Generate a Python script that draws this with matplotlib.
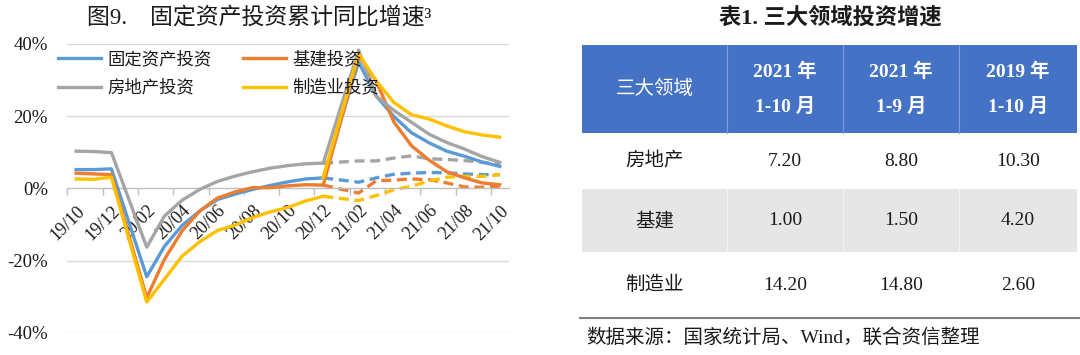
import matplotlib
matplotlib.use('Agg')
import matplotlib.pyplot as plt
from matplotlib.patches import Rectangle

# ---------------- data ----------------
months = ['19/10', '19/11', '19/12', '20/01', '20/02', '20/03', '20/04', '20/05',
          '20/06', '20/07', '20/08', '20/09', '20/10', '20/11', '20/12', '21/01',
          '21/02', '21/03', '21/04', '21/05', '21/06', '21/07', '21/08', '21/09', '21/10']

# 19/10 .. 20/12 (cumulative y/y, %); January has no separate release
fai_2020 = [5.2, 5.2, 5.4, None, -24.5, -16.1, -10.3, -6.3, -3.1, -1.6, -0.3, 0.8, 1.8, 2.6, 2.9]
infra_2020 = [4.2, 4.0, 3.8, None, -30.3, -19.7, -11.8, -6.3, -2.7, -1.0, 0.2, 0.2, 0.7, 1.0, 0.9]
estate_2020 = [10.3, 10.2, 9.9, None, -16.3, -7.7, -3.3, -0.3, 1.9, 3.4, 4.6, 5.6, 6.3, 6.8, 7.0]
manu_2020 = [2.6, 2.5, 3.1, None, -31.5, -25.2, -18.8, -14.8, -11.7, -10.2, -8.1, -6.5, -5.3, -3.5, -2.2]

# 20/12 .. 21/10, solid (y/y)
fai_2021 = [2.9, None, 35.0, 25.6, 19.9, 15.4, 12.6, 10.3, 8.9, 7.3, 6.1]
infra_2021 = [0.9, None, 36.6, 29.7, 18.4, 11.8, 7.8, 4.6, 2.9, 1.5, 1.0]
estate_2021 = [7.0, None, 38.3, 25.6, 21.6, 18.3, 15.0, 12.7, 10.9, 8.8, 7.2]
manu_2021 = [3.0, None, 37.3, 29.8, 23.8, 20.4, 19.2, 17.3, 15.7, 14.8, 14.2]

# 20/12 .. 21/10, dashed (two-year average)
fai_2y = [2.9, None, 1.7, 2.9, 3.9, 4.2, 4.4, 4.3, 4.0, 3.8, 3.8]
infra_2y = [0.9, None, -1.3, 2.1, 2.3, 2.6, 2.4, 1.5, 0.4, 0.3, 0.6]
estate_2y = [7.0, None, 7.6, 7.6, 8.4, 9.0, 8.2, 8.0, 7.7, 7.2, 6.8]
manu_2y = [-2.2, None, -3.4, -2.0, -0.4, 0.6, 2.0, 3.1, 3.3, 3.3, 3.8]

series_names = ['固定资产投资', '基建投资', '房地产投资', '制造业投资']
yticks = [-40, -20, 0, 20, 40]

table_title = '表1. 三大领域投资增速'
table_header = ['三大领域', '2021 年\n1-10 月', '2021 年\n1-9 月', '2019 年\n1-10 月']
table_rows = ['房地产', '基建', '制造业']
table_vals = [[7.20, 8.80, 10.30],
              [1.00, 1.50, 4.20],
              [14.20, 14.80, 2.60]]
source_text = '数据来源：国家统计局、Wind，联合资信整理'
chart_title = '图9.\u3000固定资产投资累计同比增速³'

# ---------------- style ----------------
C_BLUE, C_ORANGE, C_GRAY, C_YELLOW = '#5B9BD5', '#ED7D31', '#A5A5A5', '#FFC000'
SERIF = ['Liberation Serif', 'Noto Sans CJK SC']
CJK = ['Noto Sans CJK SC', 'Liberation Serif']
W, H = 1080, 355

fig = plt.figure(figsize=(W / 100, H / 100), dpi=100)

x0, x1, ytop, ybot = 67.3, 508.6, 44.0, 332.7
ax = fig.add_axes([x0 / W, (H - ybot) / H, (x1 - x0) / W, (ybot - ytop) / H])


def pts(vals, start):
    xs = [start + i for i, v in enumerate(vals) if v is not None]
    ys = [v for v in vals if v is not None]
    return xs, ys


LW = 2.4
DASH = (0, (3.0, 1.7))
i2021 = months.index('20/12')
colors = {'固定资产投资': C_BLUE, '基建投资': C_ORANGE, '房地产投资': C_GRAY, '制造业投资': C_YELLOW}
data2020 = {'固定资产投资': fai_2020, '基建投资': infra_2020, '房地产投资': estate_2020, '制造业投资': manu_2020}
data2021 = {'固定资产投资': fai_2021, '基建投资': infra_2021, '房地产投资': estate_2021, '制造业投资': manu_2021}
data2y = {'固定资产投资': fai_2y, '基建投资': infra_2y, '房地产投资': estate_2y, '制造业投资': manu_2y}

handles = {}
for name in series_names:
    ax.plot(*pts(data2y[name], i2021), color=colors[name], lw=LW, ls=DASH,
            solid_capstyle='butt', zorder=2)
for name in series_names:
    h, = ax.plot(*pts(data2020[name], 0), color=colors[name], lw=LW,
                 solid_joinstyle='round', zorder=3, label=name)
    ax.plot(*pts(data2021[name], i2021), color=colors[name], lw=LW,
            solid_joinstyle='round', zorder=3)
    handles[name] = h

ax.set_xlim(-0.5, len(months) - 0.5)
ax.set_ylim(-40, 40)
for s in ['top', 'right', 'left']:
    ax.spines[s].set_visible(False)
ax.spines['bottom'].set_position(('data', 0))
ax.spines['bottom'].set_color('#BFBFBF')
ax.spines['bottom'].set_linewidth(1.0)
for y in yticks:
    if y != 0:
        ax.axhline(y, color='#D9D9D9', lw=1.0, zorder=0)

ax.set_yticks(yticks)
ax.set_yticklabels([f'{y}%' for y in yticks], fontfamily=SERIF, fontsize=13.5, color='#1a1a1a')
ax.tick_params(axis='y', length=0, pad=14)

lab_idx = list(range(0, len(months), 2))
ax.set_xticks(lab_idx)
ax.set_xticklabels([months[i] for i in lab_idx], rotation=45, ha='right',
                   rotation_mode='anchor', fontfamily=SERIF, fontsize=13, color='#1a1a1a')
ax.set_xticks([i - 0.5 for i in lab_idx], minor=True)
ax.tick_params(axis='x', which='major', length=0, pad=10)
ax.tick_params(axis='x', which='minor', length=5, color='#BFBFBF', width=1.0, direction='out')

order = ['固定资产投资', '房地产投资', '基建投资', '制造业投资']
leg = fig.legend([handles[n] for n in order], order, ncol=2, frameon=False,
                 loc='upper left', bbox_to_anchor=(58 / W, (H - 50) / H),
                 borderpad=0, borderaxespad=0, handlelength=2.5, handletextpad=0.35,
                 columnspacing=1.8, labelspacing=0.62,
                 prop={'family': CJK, 'size': 12.5})
for t in leg.get_texts():
    t.set_color('#1a1a1a')

fig.text(259.5 / W, 1 - 18 / H, chart_title, ha='center', va='center',
         fontfamily=SERIF, fontsize=16.5, color='#1a1a1a')

# ---------------- table ----------------
tax = fig.add_axes([0, 0, 1, 1], zorder=-1)
tax.set_xlim(0, W)
tax.set_ylim(H, 0)
tax.axis('off')

col_edges = [582, 727, 843, 959, 1077]
row_edges = [45, 133, 189, 252, 318]
tax.text(830, 18, table_title, ha='center', va='center', fontfamily=SERIF,
         fontsize=16, fontweight='bold', color='#1a1a1a')

tax.add_patch(Rectangle((col_edges[0], row_edges[0]), col_edges[-1] - col_edges[0],
                        row_edges[1] - row_edges[0], color='#4472C4', lw=0))
tax.add_patch(Rectangle((col_edges[0], row_edges[2]), col_edges[-1] - col_edges[0],
                        row_edges[3] - row_edges[2], color='#E7E6E6', lw=0))
for cx in col_edges[1:-1]:
    tax.plot([cx, cx], [row_edges[0], row_edges[1]], color='#7E9FD9', lw=0.8)
    tax.plot([cx, cx], [row_edges[2], row_edges[3]], color='#F5F5F5', lw=0.8)
tax.plot([580, 1080], [row_edges[-1], row_edges[-1]], color='#7F7F7F', lw=1.5)

hy = (row_edges[0] + row_edges[1]) / 2
for j, head in enumerate(table_header):
    cx = (col_edges[j] + col_edges[j + 1]) / 2
    lines = head.split('\n')
    if len(lines) == 1:
        tax.text(cx, hy, lines[0], ha='center', va='center', fontfamily=CJK,
                 fontsize=14, color='white')
    else:
        for k, ln in enumerate(lines):
            tax.text(cx, hy - 17.5 + 35 * k, ln, ha='center', va='center', fontfamily=SERIF,
                     fontsize=14, fontweight='bold', color='white')

for r, (rname, vals) in enumerate(zip(table_rows, table_vals)):
    cy = (row_edges[r + 1] + row_edges[r + 2]) / 2
    tax.text((col_edges[0] + col_edges[1]) / 2, cy, rname, ha='center', va='center',
             fontfamily=CJK, fontsize=14, color='#1a1a1a')
    for j, v in enumerate(vals):
        tax.text((col_edges[j + 1] + col_edges[j + 2]) / 2, cy, f'{v:.2f}', ha='center',
                 va='center', fontfamily=SERIF, fontsize=14, color='#1a1a1a')

tax.text(586, 338, source_text, ha='left', va='center', fontfamily=SERIF,
         fontsize=14, color='#1a1a1a')

fig.savefig('out.png', dpi=100, facecolor='white')
